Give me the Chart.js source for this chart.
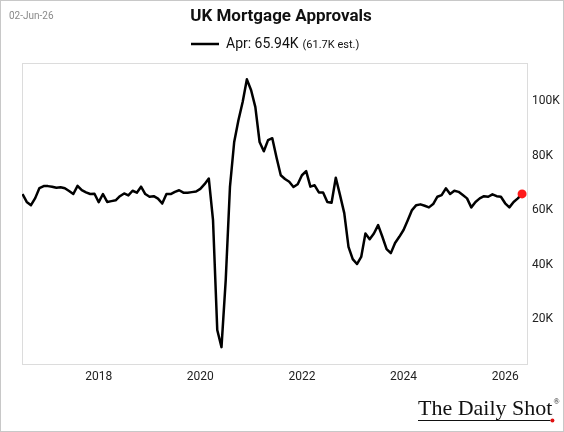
<!DOCTYPE html>
<html>
<head>
<meta charset="utf-8">
<script src="https://cdn.jsdelivr.net/npm/chart.js@4"></script>
<style>
  html, body { margin: 0; padding: 0; background: #fff; }
  canvas { display: block; }
</style>
</head>
<body>
<canvas id="chart" width="564" height="432"></canvas>
<script>
const firstMonth = [2016, 6];
// monthly approvals, thousands
const approvals = [
  65.9, 63.0, 61.8, 64.4, 68.1, 68.8, 68.8,                          // 2016 Jun-Dec
  68.6, 68.2, 68.4, 68.0, 67.0, 65.9, 68.9, 67.3, 66.5, 65.9, 66.0, 62.9, // 2017
  65.9, 63.0, 63.3, 63.6, 65.1, 66.1, 65.4, 67.1, 66.4, 68.6, 65.9, 64.9, // 2018
  65.1, 64.2, 62.4, 65.9, 65.9, 66.7, 67.3, 66.4, 66.4, 66.6, 66.8, 67.8, // 2019
  69.5, 71.6, 56.3, 16.0, 9.7, 34.3, 68.5, 85.0, 93.0, 99.7, 108.0, 104.0, // 2020
  97.8, 85.0, 81.6, 85.7, 86.4, 79.3, 72.8, 71.4, 70.4, 68.5, 69.5, 72.8, // 2021
  74.3, 68.6, 69.1, 66.5, 66.5, 63.0, 62.7, 71.9, 65.5, 58.9, 46.5, 42.0, // 2022
  40.2, 42.8, 51.4, 49.3, 51.4, 54.5, 50.2, 45.7, 44.2, 47.9, 50.2, 52.7, // 2023
  56.3, 60.0, 61.8, 62.1, 61.6, 61.0, 62.2, 64.9, 65.5, 68.0, 65.9, 67.1, // 2024
  66.7, 65.5, 64.3, 61.0, 63.0, 64.3, 65.1, 64.9, 65.8, 65.1, 64.9, 62.5, // 2025
  61.0, 63.0, 64.3, 65.94                                             // 2026 Jan-Apr
];
const months = approvals.map((v, i) => {
  const m = firstMonth[1] - 1 + i;
  return (firstMonth[0] + Math.floor(m / 12)) + '-' + String(m % 12 + 1).padStart(2, '0');
});
const yearTicks = [2018, 2020, 2022, 2024, 2026];
const valueTicks = [20, 40, 60, 80, 100];
const titleText = 'UK Mortgage Approvals';
const dateText = '02-Jun-26';
const latestLabel = 'Apr: 65.94K';
const estimateLabel = '(61.7K est.)';

// month end as a fraction of the year
function toYear(m) {
  const [y, mo] = m.split('-').map(Number);
  return y + mo / 12;
}

const frame = {
  id: 'frame',
  beforeDraw(chart) {
    const c = chart.ctx;
    const a = chart.chartArea;
    c.save();
    c.strokeStyle = '#dcdcdc';
    c.lineWidth = 1;
    c.strokeRect(a.left + 0.5, a.top + 0.5, a.right - a.left - 1, a.bottom - a.top);
    c.restore();
  },
  afterDraw(chart) {
    const c = chart.ctx;
    c.save();
    // outer border
    c.strokeStyle = '#c8c8c8';
    c.lineWidth = 1;
    c.strokeRect(0.5, 0.5, 563, 431);

    c.textBaseline = 'middle';
    c.fillStyle = '#8a8a8a';
    c.font = '10px Roboto';
    c.textAlign = 'left';
    c.fillText(dateText, 9, 16);

    c.fillStyle = '#111';
    c.font = 'bold 17px Roboto';
    c.textAlign = 'center';
    c.fillText(titleText, 281, 17);

    // legend
    c.strokeStyle = '#000';
    c.lineWidth = 2.5;
    c.beginPath();
    c.moveTo(191, 44);
    c.lineTo(219, 44);
    c.stroke();
    c.textAlign = 'left';
    c.font = '14px Roboto';
    c.fillText(latestLabel, 226, 44);
    const w = c.measureText(latestLabel).width;
    c.font = '11px Roboto';
    c.fillText(estimateLabel, 226 + w + 4, 45);

    // logo
    c.font = '22px "Liberation Serif"';
    c.textBaseline = 'alphabetic';
    c.fillStyle = '#111';
    c.fillText('The Daily Shot', 418, 415);
    const lw = c.measureText('The Daily Shot').width;
    c.lineWidth = 1;
    c.strokeStyle = '#111';
    c.beginPath();
    c.moveTo(418, 420.5);
    c.lineTo(418 + lw - 2, 420.5);
    c.stroke();
    c.fillStyle = '#e01010';
    c.beginPath();
    c.arc(418 + lw, 420.5, 2, 0, Math.PI * 2);
    c.fill();
    c.fillStyle = '#111';
    c.font = '8px "Liberation Serif"';
    c.fillText('®', 418 + lw + 1, 404);
    c.restore();
  }
};

const ctx = document.getElementById('chart').getContext('2d');
const chart = new Chart(ctx, {
  type: 'line',
  data: {
    datasets: [{
      data: months.map((m, i) => ({ x: toYear(m), y: approvals[i] })),
      borderColor: '#000',
      borderWidth: 2.5,
      borderJoinStyle: 'round',
      tension: 0,
      pointRadius: c => c.dataIndex === approvals.length - 1 ? 4.5 : 0,
      pointBackgroundColor: '#ff1a1a',
      pointBorderWidth: 0
    }]
  },
  options: {
    responsive: false,
    animation: false,
    devicePixelRatio: 1,
    layout: { padding: { top: 63, left: 22, right: 0, bottom: 0 } },
    plugins: {
      legend: { display: false },
      title: { display: false },
      tooltip: { enabled: false }
    },
    scales: {
      x: {
        type: 'linear',
        min: 2016.49,
        max: 2026.45,
        grid: { display: false, drawTicks: false },
        border: { display: false },
        afterBuildTicks: s => { s.ticks = yearTicks.map(v => ({ value: v })); },
        afterFit: s => { s.height = 68; },
        ticks: {
          padding: 6,
          color: '#222',
          font: { family: 'Roboto', size: 12 },
          maxRotation: 0,
          autoSkip: false,
          callback: v => String(v)
        }
      },
      y: {
        position: 'right',
        min: 3.5,
        max: 114,
        grid: { display: false, drawTicks: false },
        border: { display: false },
        afterBuildTicks: s => { s.ticks = valueTicks.map(v => ({ value: v })); },
        afterFit: s => { s.width = 36; },
        ticks: {
          padding: 4,
          color: '#222',
          font: { family: 'Roboto', size: 12 },
          callback: v => v + 'K'
        }
      }
    }
  },
  plugins: [frame]
});
</script>
</body>
</html>
